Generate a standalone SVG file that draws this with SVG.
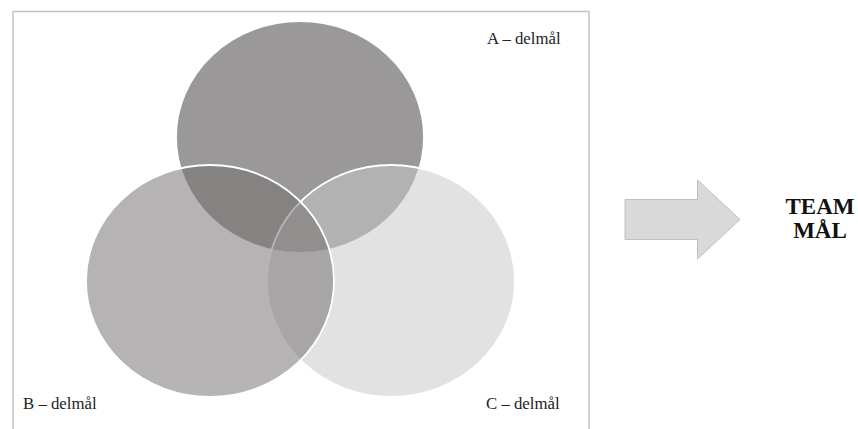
<svg xmlns="http://www.w3.org/2000/svg" width="858" height="429" viewBox="0 0 858 429">
  <style>
    .frame { fill: #ffffff; stroke: #c4c4c4; stroke-width: 1.5; }
    .set { stroke: #ffffff; stroke-width: 1.8; }
    .lbl { font-size: 16.8px; fill: #222222; }
    .goal { font-size: 23px; font-weight: bold; fill: #111111; text-anchor: middle; }
  </style>
  <rect width="858" height="429" fill="#ffffff"/>

  <!-- panel holding the three overlapping goals -->
  <rect id="panel" class="frame" x="13" y="11.5" width="576" height="440"/>

  <g id="set-a">
    <ellipse class="set" cx="300" cy="137" rx="124" ry="116" fill="#9a9898"/>
  </g>
  <g id="set-c">
    <ellipse class="set" cx="391" cy="281" rx="124" ry="116" fill="#c8c8c8" fill-opacity="0.535"/>
  </g>
  <g id="set-b">
    <ellipse class="set" cx="210" cy="281" rx="124" ry="116" fill="#736e6e" fill-opacity="0.525"/>
  </g>

  <g id="labels" font-family="'Liberation Serif', 'Times New Roman', serif">
    <text class="lbl" x="487" y="44">A – delmål</text>
    <text class="lbl" x="23" y="409">B – delmål</text>
    <text class="lbl" x="486" y="409">C – delmål</text>
  </g>

  <!-- block arrow pointing to the team goal -->
  <g id="connectors">
    <path d="M625,199.5 H697.5 V180 L740,219.5 L697.5,259 V239.5 H625 Z" fill="#d9d9d9" stroke="#c0c0c0" stroke-width="1"/>
  </g>

  <g id="team-goal" font-family="'Liberation Serif', 'Times New Roman', serif">
    <text class="goal" x="820" y="214">TEAM</text>
    <text class="goal" x="820" y="238">MÅL</text>
  </g>
</svg>
